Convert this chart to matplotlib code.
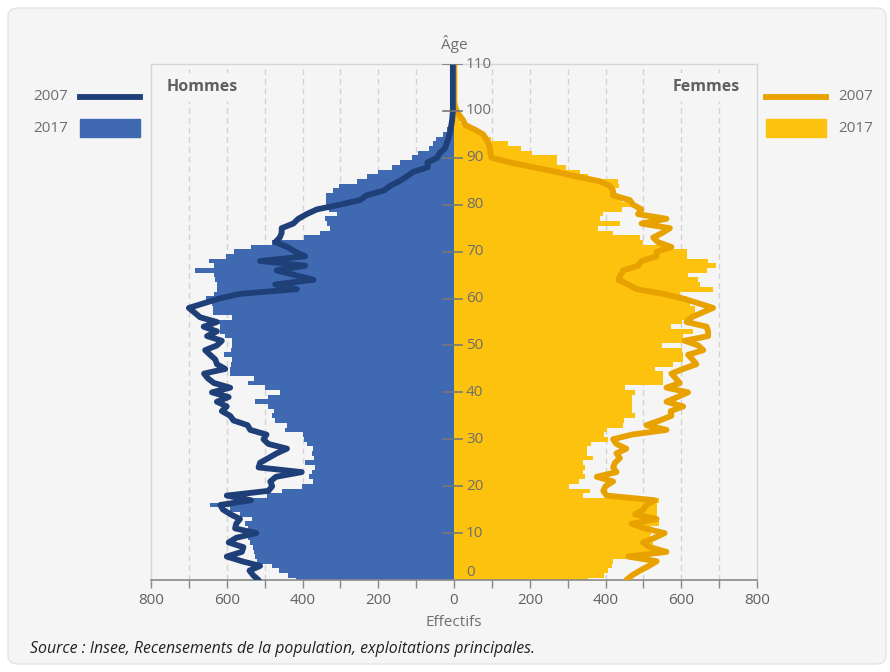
import matplotlib
matplotlib.use("Agg")
import matplotlib.pyplot as plt
from matplotlib.patches import FancyBboxPatch, Rectangle
from matplotlib.lines import Line2D
import numpy as np

plt.rcParams['font.family'] = ['Open Sans', 'DejaVu Sans']

# ---------------- data ----------------
ages_bars = list(range(0, 106))
hommes_2017 = [417, 437, 461, 480, 520, 525, 527, 530, 538, 543,
               538, 545, 551, 534, 565, 591, 644, 540, 494, 455,
               402, 371, 384, 375, 367, 393, 370, 375, 372, 388,
               396, 400, 445, 440, 472, 480, 475, 490, 525, 490,
               459, 500, 545, 527, 591, 591, 588, 586, 607, 590,
               586, 586, 604, 619, 619, 621, 586, 636, 636, 638,
               656, 634, 626, 626, 630, 634, 684, 634, 648, 602,
               580, 535, 480, 396, 353, 327, 335, 340, 310, 330,
               337, 337, 337, 320, 303, 257, 231, 200, 164, 142,
               111, 94, 67, 55, 47, 28, 19, 12, 8, 5,
               3, 2, 1, 1, 0, 0]
femmes_2017 = [353, 397, 407, 416, 420, 469, 520, 525, 525, 517,
               520, 520, 542, 542, 535, 535, 535, 540, 340, 360,
               303, 331, 346, 340, 346, 340, 368, 350, 352, 363,
               407, 395, 405, 447, 450, 478, 469, 470, 469, 469,
               478, 451, 552, 552, 552, 530, 579, 605, 605, 601,
               548, 614, 605, 630, 574, 601, 620, 636, 636, 623,
               614, 596, 684, 649, 645, 618, 667, 693, 671, 614,
               614, 580, 500, 490, 420, 380, 438, 385, 394, 443,
               469, 443, 434, 425, 435, 434, 354, 332, 297, 273,
               271, 205, 178, 143, 99, 77, 60, 24, 15, 10,
               7, 7, 3, 2, 1, 1]

ages_lines = list(range(0, 111))
hommes_2007 = [516, 530, 540, 512, 560, 600, 560, 556, 595, 575,
               522, 578, 575, 565, 590, 610, 617, 536, 600, 490,
               480, 485, 470, 402, 516, 512, 490, 468, 441, 490,
               503, 495, 538, 545, 582, 591, 613, 600, 626, 595,
               639, 591, 634, 650, 660, 604, 626, 630, 644, 657,
               626, 613, 652, 626, 661, 626, 670, 685, 700, 660,
               620, 565, 415, 472, 371, 420, 468, 393, 512, 393,
               420, 440, 472, 460, 455, 455, 424, 411, 389, 362,
               302, 248, 231, 186, 169, 145, 125, 108, 69, 70,
               45, 38, 24, 20, 15, 12, 9, 7, 5, 4,
               3, 3, 3, 3, 3, 3, 3, 3, 3, 3, 3]
femmes_2007 = [455, 470, 491, 515, 535, 460, 561, 517, 499, 530,
               556, 504, 469, 535, 478, 500, 508, 530, 403, 394,
               400, 420, 377, 429, 420, 425, 438, 429, 455, 429,
               420, 470, 561, 508, 543, 574, 572, 605, 561, 590,
               618, 561, 596, 585, 574, 605, 640, 630, 618, 658,
               645, 609, 671, 671, 667, 614, 627, 655, 684, 645,
               605, 552, 482, 460, 434, 440, 447, 486, 495, 535,
               535, 574, 539, 526, 550, 570, 495, 561, 486, 495,
               473, 464, 420, 420, 412, 385, 324, 271, 209, 148,
               99, 96, 95, 91, 85, 77, 55, 30, 24, 15,
               7, 3, 1, 1, 1, 1, 1, 1, 1, 1, 1]

x_ticks = list(range(-800, 801, 100))
x_labels = ['800', '', '600', '', '400', '', '200', '', '0', '', '200', '', '400', '', '600', '', '800']
age_ticks = [0, 10, 20, 30, 40, 50, 60, 70, 80, 90, 100, 110]
grid_x = [-700, -600, -500, -400, -300, -200, -100, 100, 200, 300, 400, 500, 600, 700]

# ---------------- styles ----------------
BG = '#f5f5f5'
BLUE = '#3f69b1'
NAVY = '#1f3f78'
YELLOW = '#fdc20e'
ORANGE = '#e8a200'
GREY = '#6e6e6e'

W, H = 890, 672
fig = plt.figure(figsize=(W / 100, H / 100), dpi=100)
fig.patch.set_facecolor('white')
card = FancyBboxPatch((8 / W, 8 / H), 878 / W, 656 / H,
                      boxstyle="round,pad=0,rounding_size=0.012",
                      transform=fig.transFigure, facecolor=BG,
                      edgecolor='#e4e4e4', lw=1, zorder=-10)
fig.patches.append(card)

ax = fig.add_axes([151 / W, 1 - 580 / H, 606 / W, 516 / H])
ax.set_facecolor(BG)
ax.set_xlim(-800, 800)
ax.set_ylim(0, 110)

# grid
for gx in grid_x:
    ax.axvline(gx, color='#d2d2d2', lw=1, ls=(0, (4, 3)), zorder=0)

# bars
ax.barh(ages_bars, [-v for v in hommes_2017], height=1.0, color=BLUE, zorder=2, linewidth=0)
ax.barh(ages_bars, femmes_2017, height=1.0, color=YELLOW, zorder=2, linewidth=0)

# lines
ax.plot(femmes_2007, ages_lines, color=ORANGE, lw=4.2, zorder=3,
        solid_joinstyle='round', solid_capstyle='round')
ax.plot([-v for v in hommes_2007], ages_lines, color=NAVY, lw=4.2, zorder=3.5,
        solid_joinstyle='round', solid_capstyle='round')

# central age axis ticks and labels
for t in age_ticks:
    if t > 0:
        ax.plot([-28, 22], [t, t], color='#777777', lw=1.2, zorder=5)
    ypos = t if t > 0 else 1.7
    ax.text(32, ypos, str(t), ha='left', va='center', fontsize=11, color=GREY, zorder=6)

# spines and x axis
for s in ['top', 'left', 'right']:
    ax.spines[s].set_color('#d6d6d6')
    ax.spines[s].set_linewidth(1)
ax.spines['bottom'].set_color('#888888')
ax.spines['bottom'].set_linewidth(1.2)
ax.set_xticks(x_ticks)
ax.set_xticklabels(x_labels)
ax.tick_params(axis='x', length=6, width=1, color='#888888', labelcolor='#606060',
               labelsize=11, pad=3)
ax.set_yticks([])

# group labels
box = dict(facecolor=BG, edgecolor='none', pad=5)
ax.text(-760, 105.0, 'Hommes', ha='left', va='center', fontsize=11.5,
        fontweight='bold', color='#606060', bbox=box, zorder=6)
ax.text(755, 105.0, 'Femmes', ha='right', va='center', fontsize=11.5,
        fontweight='bold', color='#606060', bbox=box, zorder=6)

# titles
fig.text(454 / W, 1 - 44 / H, 'Âge', ha='center', va='center', fontsize=11, color=GREY)
fig.text(454 / W, 1 - 623 / H, 'Effectifs', ha='center', va='center', fontsize=11, color=GREY)
fig.text(30 / W, 1 - 649 / H,
         'Source : Insee, Recensements de la population, exploitations principales.',
         ha='left', va='center', fontsize=11.4, style='italic', color='#222222')

# legends
def fy(y):
    return 1 - y / H

fig.text(68 / W, fy(97), '2007', ha='right', va='center', fontsize=11, color=GREY)
fig.text(68 / W, fy(128), '2017', ha='right', va='center', fontsize=11, color=GREY)
fig.lines.append(Line2D([80 / W, 140 / W], [fy(97), fy(97)], color=NAVY, lw=4.2,
                        transform=fig.transFigure))
fig.patches.append(Rectangle((80 / W, fy(137)), 60 / W, 18 / H, color=BLUE,
                             transform=fig.transFigure))
fig.text(838 / W, fy(97), '2007', ha='left', va='center', fontsize=11, color=GREY)
fig.text(838 / W, fy(128), '2017', ha='left', va='center', fontsize=11, color=GREY)
fig.lines.append(Line2D([766 / W, 826 / W], [fy(97), fy(97)], color=ORANGE, lw=4.2,
                        transform=fig.transFigure))
fig.patches.append(Rectangle((766 / W, fy(137)), 60 / W, 18 / H, color=YELLOW,
                             transform=fig.transFigure))

fig.savefig('out.png', dpi=100, facecolor='white')
